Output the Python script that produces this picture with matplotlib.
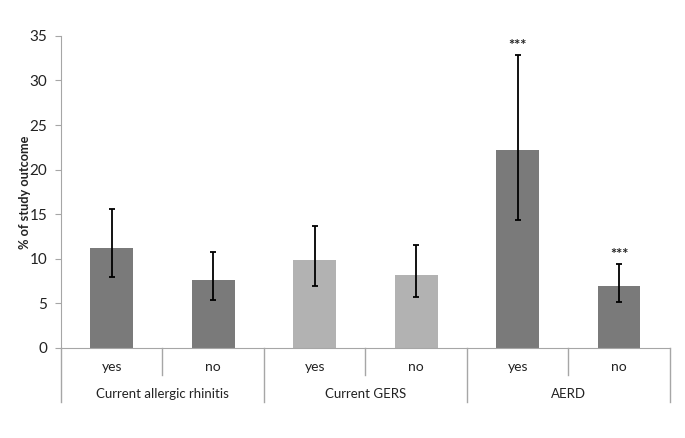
import numpy as np
import matplotlib.pyplot as plt
import matplotlib.transforms as mtransforms

plt.rcParams['font.family'] = ['Lato', 'DejaVu Sans']

# data
sub_labels = ["yes", "no", "yes", "no", "yes", "no"]
groups = ["Current allergic rhinitis", "Current GERS", "AERD"]
values = [11.2, 7.6, 9.85, 8.15, 22.2, 7.0]
err_low = [8.0, 5.35, 7.0, 5.7, 14.35, 5.2]
err_high = [15.55, 10.75, 13.7, 11.6, 32.85, 9.4]
stars = ["", "", "", "", "***", "***"]

dark = "#7a7a7a"
light = "#b2b2b2"
colors = [dark, dark, light, light, dark, dark]
axis_col = "#a6a6a6"
txt = "#222222"

fig = plt.figure(figsize=(6.85, 4.38), dpi=100)
ax = fig.add_axes([0.089, 0.2055, 0.889, 0.7125])

x = np.arange(len(values))
vals = np.array(values)
yerr = [vals - np.array(err_low), np.array(err_high) - vals]
ax.bar(x, vals, width=0.42, color=colors, zorder=2)
ax.errorbar(x, vals, yerr=yerr, fmt="none", ecolor="black", elinewidth=1.3,
            capsize=2.5, capthick=1.3, zorder=3)

for xi, s, hi in zip(x, stars, err_high):
    if s:
        ax.text(xi, hi + 0.2, s, ha="center", va="bottom", fontsize=10.5,
                fontweight="bold", color=txt)

ax.set_xlim(-0.5, 5.5)
ax.set_ylim(0, 35)
ax.set_yticks(np.arange(0, 36, 5))
ax.tick_params(axis="y", direction="out", length=4, color=axis_col,
               labelsize=11, labelcolor=txt, pad=6)
ax.set_xticks([])
for side in ["top", "right"]:
    ax.spines[side].set_visible(False)
for side in ["left", "bottom"]:
    ax.spines[side].set_color(axis_col)
ax.set_ylabel("% of study outcome", fontsize=9.2, fontweight="bold", color=txt)
ax.yaxis.set_label_coords(-0.05, 0.5)

# multi-level category axis
trans = mtransforms.blended_transform_factory(ax.transData, ax.transAxes)
for b in [0.5, 2.5, 4.5]:
    ax.plot([b, b], [0, -0.087], color=axis_col, lw=1, transform=trans, clip_on=False)
for b in [-0.5, 1.5, 3.5, 5.5]:
    ax.plot([b, b], [0, -0.173], color=axis_col, lw=1, transform=trans, clip_on=False)
for xi, lab in zip(x, sub_labels):
    ax.text(xi, -0.062, lab, ha="center", va="center", fontsize=10, color=txt, transform=trans)
for gi, g in enumerate(groups):
    ax.text(2 * gi + 0.5, -0.148, g, ha="center", va="center", fontsize=9.5, color=txt,
            transform=trans)

fig.savefig("out.png", dpi=100)
